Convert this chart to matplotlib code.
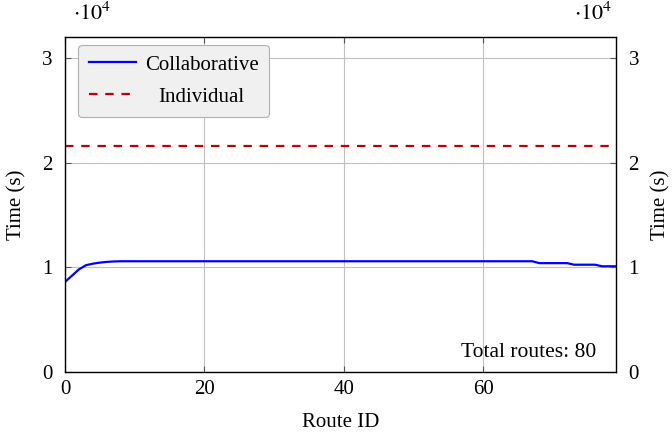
import matplotlib
matplotlib.use('Agg')
import matplotlib.pyplot as plt
import numpy as np

plt.rcParams['font.family'] = ['Liberation Serif', 'DejaVu Serif']
plt.rcParams['mathtext.fontset'] = 'stix'
plt.rcParams['font.size'] = 15

# route ids 0..79, times in units of 1e4 s
route_id = np.arange(80)
collab_head = [0.86, 0.92, 0.98, 1.02, 1.035, 1.045, 1.052, 1.056]
collab_mid = [1.058] * 60          # routes 8..67
collab_tail = [1.04, 1.04, 1.04, 1.04, 1.04,      # 68..72
               1.025, 1.025, 1.025, 1.025,        # 73..76
               1.01, 1.01, 1.01]                  # 77..79
collaborative = np.array(collab_head + collab_mid + collab_tail)
individual = np.full(80, 2.16)
total_routes = 80

fig = plt.figure(figsize=(6.72, 4.32), dpi=100)
ax = fig.add_axes([0.0967, 0.139, 0.82, 0.775])

ax.plot(route_id, collaborative, color='#0000ff', lw=1.6, label='Collaborative')
ax.plot(route_id, individual, color='#bf0000', lw=1.6, ls=(0, (3.8, 3.5)), label='Individual')

ax.set_xlim(0, 79)
ax.set_ylim(0, 3.2)
ax.set_xticks([0, 20, 40, 60])
ax.set_yticks([0, 1, 2, 3])
ax.grid(True, color='#c0c0c0', lw=0.8)
ax.set_axisbelow(True)
ax.tick_params(direction='in', length=4, color='#555555', labelsize=15,
               top=True, right=True, pad=6)
ax.tick_params(axis='y', pad=9)
for s in ax.spines.values():
    s.set_linewidth(1.0)
    s.set_color('#333333')

ax.set_xlabel('Route ID', fontsize=15, labelpad=10)
ax.set_ylabel('Time (s)', fontsize=15, labelpad=11)

ax2 = ax.twinx()
ax2.set_ylim(ax.get_ylim())
ax2.set_yticks([0, 1, 2, 3])
ax2.tick_params(direction='in', length=4, color='#555555', labelsize=15, pad=9)
ax2.set_ylabel('Time (s)', fontsize=15, labelpad=9)

ax.text(0.015, 1.035, r'$\cdot 10^4$', transform=ax.transAxes, fontsize=16, va='bottom', ha='left')
ax.text(0.993, 1.035, r'$\cdot 10^4$', transform=ax.transAxes, fontsize=16, va='bottom', ha='right')

ax.text(0.965, 0.03, 'Total routes: %d' % total_routes, transform=ax.transAxes,
        ha='right', va='bottom', fontsize=15.5)

leg = ax.legend(loc='upper left', fontsize=15, fancybox=True, framealpha=1,
                facecolor='#f0f0f0', edgecolor='#b0b0b0', handlelength=2.3,
                handletextpad=0.4, borderpad=0.5, labelspacing=0.6,
                bbox_to_anchor=(0.005, 1.009))
leg.get_frame().set_linewidth(0.8)

# center legend labels like pgfplots
fig.canvas.draw()
r = fig.canvas.get_renderer()
texts = leg.get_texts()
widths = [t.get_window_extent(r).width for t in texts]
wmax = max(widths)
for t, w in zip(texts, widths):
    t.set_position(((wmax - w) / 2, 0))

fig.savefig('out.png', dpi=100)
